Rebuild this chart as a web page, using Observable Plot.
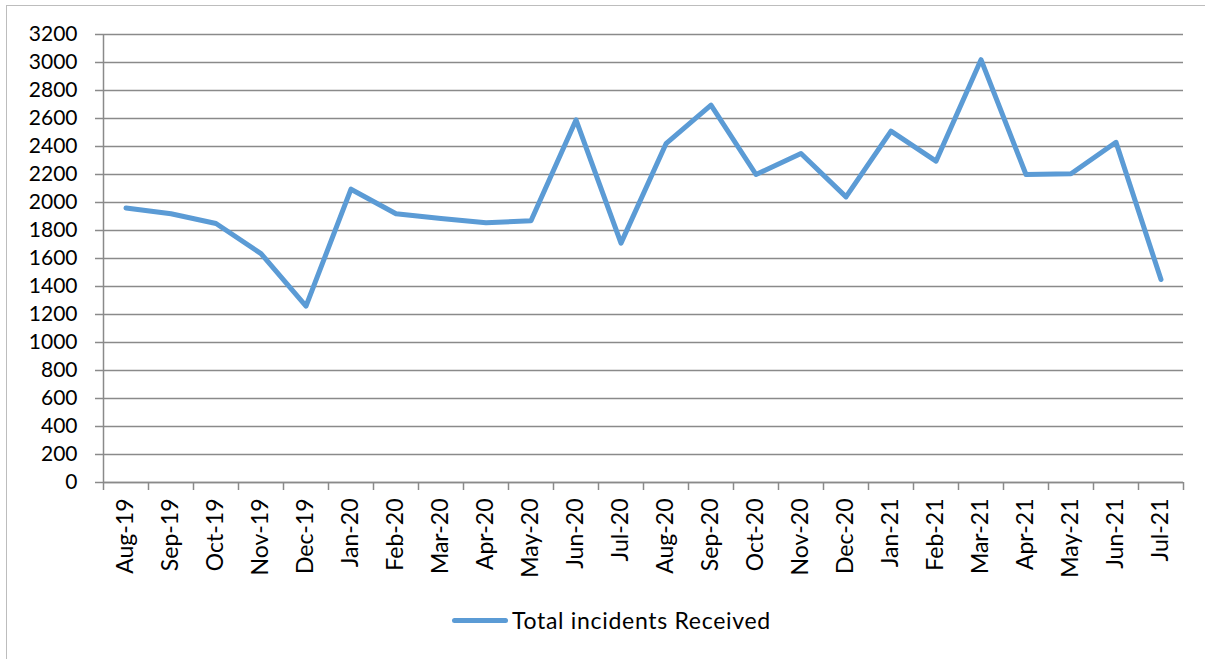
<!DOCTYPE html>
<html>
<head>
<meta charset="utf-8">
<script src="https://cdn.jsdelivr.net/npm/d3@7"></script>
<script src="https://cdn.jsdelivr.net/npm/@observablehq/plot@0.6"></script>
<style>
  html, body { margin: 0; padding: 0; background: #fff; }
  body { width: 1205px; height: 659px; position: relative; overflow: hidden; font-family: Lato, "Open Sans", sans-serif; }
  #frame { position: absolute; left: 6px; top: 5px; width: 1300px; height: 700px; border-left: 1.5px solid #bdbdbd; border-top: 1.5px solid #bdbdbd; }
  #chart { position: absolute; left: 0; top: 0; }
  #legend { position: absolute; left: 452px; top: 606px; display: flex; align-items: center; font-size: 23px; letter-spacing: 0.7px; color: #000; font-family: Lato, sans-serif; }
  #legend .sw { width: 56px; height: 5px; background: #5B9BD5; border-radius: 3px; margin-right: 4px; }
</style>
</head>
<body>
<div id="frame"></div>
<div id="chart"></div>
<div id="legend"><span class="sw"></span><span>Total incidents Received</span></div>
<script>
const months = ["Aug-19","Sep-19","Oct-19","Nov-19","Dec-19","Jan-20","Feb-20","Mar-20","Apr-20","May-20","Jun-20","Jul-20",
                "Aug-20","Sep-20","Oct-20","Nov-20","Dec-20","Jan-21","Feb-21","Mar-21","Apr-21","May-21","Jun-21","Jul-21"];
const incidents = [1960,1920,1850,1635,1260,2095,1920,1885,1855,1870,2590,1710,
                   2420,2695,2200,2350,2040,2510,2295,3020,2200,2205,2430,1450];
const yTicks = [0,200,400,600,800,1000,1200,1400,1600,1800,2000,2200,2400,2600,2800,3000,3200];

const data = months.map((m, i) => ({month: m, idx: i + 0.5, value: incidents[i]}));
const gridColor = "#8a8a8a";

const chart = Plot.plot({
  width: 1205,
  height: 600,
  marginLeft: 103,
  marginRight: 22,
  marginTop: 34,
  marginBottom: 118,
  style: {fontFamily: "Lato, sans-serif", fontSize: "21px", color: "#000", background: "transparent"},
  x: {type: "linear", domain: [0, months.length]},
  y: {domain: [0, 3200]},
  marks: [
    Plot.gridY(yTicks, {stroke: gridColor, strokeOpacity: 1, strokeWidth: 1.5}),
    Plot.axisY(yTicks, {tickSize: 8, tickPadding: 18, stroke: gridColor, strokeWidth: 1.5, label: null, tickFormat: d => String(d), fontSize: 21}),
    Plot.axisX(d3.range(0, months.length + 1), {tickSize: 8, tickFormat: () => "", stroke: gridColor, strokeWidth: 1.5, label: null}),
    Plot.axisX(data.map(d => d.idx), {tickSize: 0, tickPadding: 16, tickRotate: -90, fontSize: 23, tickFormat: d => months[Math.floor(d)], label: null}),
    Plot.ruleX([0], {y1: 0, y2: 3200, stroke: gridColor, strokeWidth: 1.5}),
    Plot.ruleY([0], {stroke: gridColor, strokeWidth: 1.5}),
    Plot.line(data, {x: "idx", y: "value", stroke: "#5B9BD5", strokeWidth: 5, strokeLinejoin: "round", strokeLinecap: "round"})
  ]
});
document.getElementById("chart").appendChild(chart);
</script>
</body>
</html>
